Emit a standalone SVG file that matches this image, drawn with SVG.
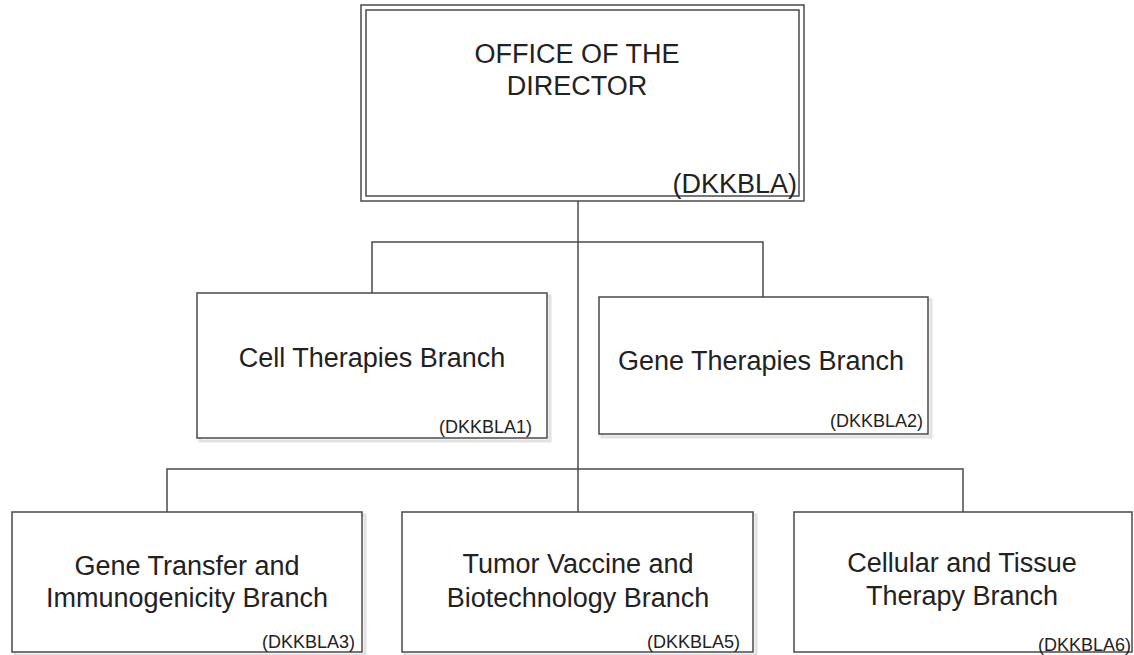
<svg xmlns="http://www.w3.org/2000/svg" width="1134" height="655" viewBox="0 0 1134 655">
<style>
.box{fill:#fff;stroke:#4a4a4a;stroke-width:1.5}
.shadow{fill:none;stroke:#e2e2e2;stroke-width:3}
.conn{fill:none;stroke:#4a4a4a;stroke-width:1.5}
.t{font-family:"Liberation Sans",Arial,sans-serif;font-size:27px;fill:#222;text-anchor:middle}
.c{font-family:"Liberation Sans",Arial,sans-serif;font-size:18px;fill:#222;text-anchor:end}
.cb{font-family:"Liberation Sans",Arial,sans-serif;font-size:27px;fill:#222;text-anchor:end}
</style>
<rect width="1134" height="655" fill="#fff"/>
<g id="connectors">
<path class="conn" d="M578 201 V512"/>
<path class="conn" d="M372 293 V242 H763 V297"/>
<path class="conn" d="M167 512 V469 H963 V512"/>
</g>
<g id="director">
<rect class="box" x="361" y="5" width="443" height="196"/>
<rect class="box" x="366" y="10" width="433" height="186"/>
<text class="t" x="577" y="63">OFFICE OF THE</text>
<text class="t" x="577" y="95">DIRECTOR</text>
<text class="cb" x="797" y="193">(DKKBLA)</text>
</g>
<g id="cell-therapies">
<rect class="shadow" x="200" y="296" width="350" height="145"/>
<rect class="box" x="197" y="293" width="350" height="145"/>
<text class="t" x="372" y="367">Cell Therapies Branch</text>
<text class="c" x="532" y="433">(DKKBLA1)</text>
</g>
<g id="gene-therapies">
<rect class="shadow" x="602" y="300" width="329" height="137"/>
<rect class="box" x="599" y="297" width="329" height="137"/>
<text class="t" x="761" y="370">Gene Therapies Branch</text>
<text class="c" x="923" y="427">(DKKBLA2)</text>
</g>
<g id="gene-transfer">
<rect class="shadow" x="15" y="515" width="350" height="140"/>
<rect class="box" x="12" y="512" width="350" height="140"/>
<text class="t" x="187" y="575">Gene Transfer and</text>
<text class="t" x="187" y="607">Immunogenicity Branch</text>
<text class="c" x="355" y="648">(DKKBLA3)</text>
</g>
<g id="tumor-vaccine">
<rect class="shadow" x="405" y="515" width="351" height="140"/>
<rect class="box" x="402" y="512" width="351" height="140"/>
<text class="t" x="578" y="573">Tumor Vaccine and</text>
<text class="t" x="578" y="607">Biotechnology Branch</text>
<text class="c" x="740" y="648">(DKKBLA5)</text>
</g>
<g id="cellular-tissue">
<rect class="box" x="794" y="512" width="338" height="140"/>
<text class="t" x="962" y="572">Cellular and Tissue</text>
<text class="t" x="962" y="605">Therapy Branch</text>
<text class="c" x="1131" y="651">(DKKBLA6)</text>
</g>
</svg>
